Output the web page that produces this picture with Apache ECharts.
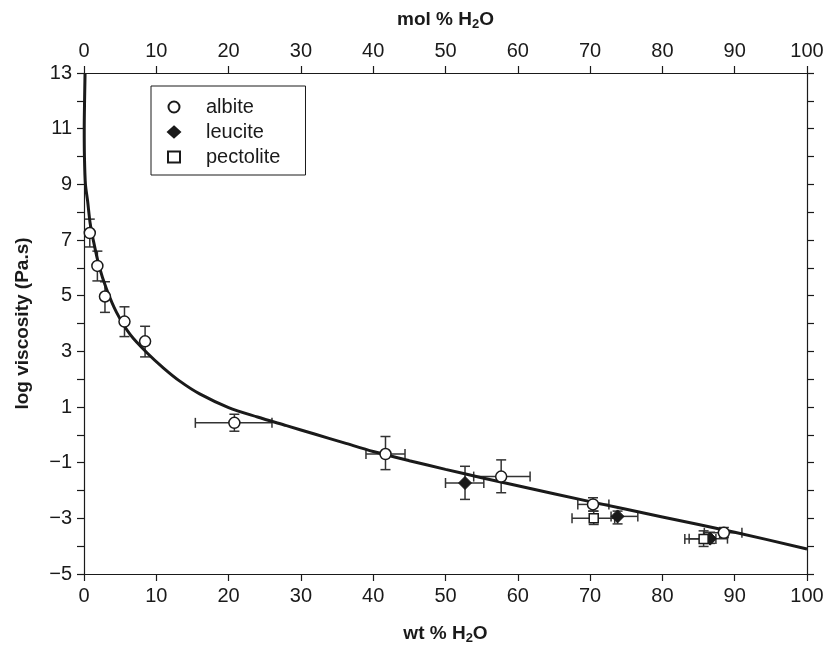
<!DOCTYPE html>
<html>
<head>
<meta charset="utf-8">
<script src="https://cdn.jsdelivr.net/npm/echarts@6/dist/echarts.min.js"></script>
<style>
html,body{margin:0;padding:0;background:#fff;}
#chart{width:827px;height:650px;}
</style>
</head>
<body>
<div id="chart"></div>
<script>
// Fitted curve (wt % H2O, log viscosity)
const curveX = [0.15, 0.08, 0.03, 0.06, 0.2, 0.5, 0.85, 1.2, 2.1, 3.1, 4.5, 6.4, 8.7, 11, 13.3, 16, 20, 24, 28, 32, 36, 40, 45, 50, 55, 60, 70, 80, 90, 100];
const curveY = [13, 12, 11, 10, 9, 8.4, 7.6, 7.1, 6.05, 5.25, 4.4, 3.6, 2.95, 2.4, 1.92, 1.47, 0.98, 0.64, 0.33, 0.02, -0.29, -0.6, -0.93, -1.24, -1.54, -1.83, -2.4, -2.95, -3.5, -4.1];

// albite
const albiteX   = [0.8, 1.85, 2.9, 5.6, 8.45, 20.8, 41.7, 57.7, 70.4, 88.5];
const albiteY   = [7.25, 6.07, 4.97, 4.07, 3.36, 0.43, -0.69, -1.5, -2.5, -3.52];
const albiteYLo = [6.75, 5.53, 4.4, 3.53, 2.8, 0.13, -1.25, -2.08, -2.74, -3.69];
const albiteYHi = [7.75, 6.6, 5.5, 4.6, 3.9, 0.74, -0.06, -0.9, -2.26, -3.33];
const albiteXLo = [null, null, null, null, null, 15.4, 39.0, 53.9, 68.3, 85.8];
const albiteXHi = [null, null, null, null, null, 26.0, 44.4, 61.7, 72.6, 91.0];

// leucite
const leuciteX   = [52.7, 73.8, 86.6];
const leuciteY   = [-1.73, -2.93, -3.73];
const leuciteYLo = [-2.32, -3.2, -3.9];
const leuciteYHi = [-1.13, -2.74, -3.5];
const leuciteXLo = [50.0, 72.9, 83.7];
const leuciteXHi = [55.3, 76.6, 89.0];

// pectolite
const pectoliteX   = [70.5, 85.7];
const pectoliteY   = [-3.0, -3.74];
const pectoliteYLo = [-3.22, -4.01];
const pectoliteYHi = [-2.74, -3.45];
const pectoliteXLo = [67.5, 83.1];
const pectoliteXHi = [73.4, 87.4];

const xMin = 0, xMax = 100, xStep = 10;
const yMin = -5, yMax = 13, yStep = 1;

const FONT = '"Liberation Sans", Arial, sans-serif';
const INK = '#1a1a1a';

function rows(x, y, ylo, yhi, xlo, xhi) {
  return x.map((v, i) => [v, y[i], ylo[i], yhi[i], xlo[i] == null ? NaN : xlo[i], xhi[i] == null ? NaN : xhi[i]]);
}
const albiteRows = rows(albiteX, albiteY, albiteYLo, albiteYHi, albiteXLo, albiteXHi);
const leuciteRows = rows(leuciteX, leuciteY, leuciteYLo, leuciteYHi, leuciteXLo, leuciteXHi);
const pectoliteRows = rows(pectoliteX, pectoliteY, pectoliteYLo, pectoliteYHi, pectoliteXLo, pectoliteXHi);
const allRows = albiteRows.concat(leuciteRows, pectoliteRows);

function errRender(params, api) {
  const x = api.value(0), y = api.value(1);
  const ylo = api.value(2), yhi = api.value(3);
  const xlo = api.value(4), xhi = api.value(5);
  const cap = 5;
  const style = { stroke: '#333', lineWidth: 1.5 };
  const ch = [];
  const pLo = api.coord([x, ylo]), pHi = api.coord([x, yhi]);
  ch.push({ type: 'line', shape: { x1: pLo[0], y1: pLo[1], x2: pHi[0], y2: pHi[1] }, style });
  ch.push({ type: 'line', shape: { x1: pLo[0] - cap, y1: pLo[1], x2: pLo[0] + cap, y2: pLo[1] }, style });
  ch.push({ type: 'line', shape: { x1: pHi[0] - cap, y1: pHi[1], x2: pHi[0] + cap, y2: pHi[1] }, style });
  if (!isNaN(xlo) && !isNaN(xhi)) {
    const qLo = api.coord([xlo, y]), qHi = api.coord([xhi, y]);
    ch.push({ type: 'line', shape: { x1: qLo[0], y1: qLo[1], x2: qHi[0], y2: qHi[1] }, style });
    ch.push({ type: 'line', shape: { x1: qLo[0], y1: qLo[1] - cap, x2: qLo[0], y2: qLo[1] + cap }, style });
    ch.push({ type: 'line', shape: { x1: qHi[0], y1: qHi[1] - cap, x2: qHi[0], y2: qHi[1] + cap }, style });
  }
  return { type: 'group', children: ch };
}

const fmtNum = v => (v < 0 ? '\u2212' + Math.abs(v) : String(v));

const axisLineStyle = { show: true, onZero: false, lineStyle: { color: INK, width: 1.2 } };
const tickStyle = { show: true, inside: false, length: 7, lineStyle: { color: INK, width: 1.2 } };
const labelStyle = { color: INK, fontSize: 20, fontFamily: FONT };
const nameRich = {
  a: { fontSize: 19, fontWeight: 'bold', fontFamily: FONT, color: INK },
  s: { fontSize: 13, fontWeight: 'bold', fontFamily: FONT, color: INK, verticalAlign: 'bottom', padding: [10, 0, 0, 0] }
};

const chart = echarts.init(document.getElementById('chart'), null, { renderer: 'canvas' });
chart.setOption({
  animation: false,
  backgroundColor: '#fff',
  grid: { left: 84, right: 20, top: 73, bottom: 73, containLabel: false },
  legend: {
    orient: 'vertical',
    left: 151, top: 86,
    padding: [11, 25, 8, 16],
    itemGap: 5,
    itemWidth: 12, itemHeight: 11,
    borderColor: INK, borderWidth: 1,
    textStyle: { color: INK, fontSize: 20, fontFamily: FONT, padding: [0, 0, 0, 21] },
    data: ['albite', 'leucite', 'pectolite']
  },
  xAxis: [
    {
      type: 'value', position: 'bottom', min: xMin, max: xMax, interval: xStep,
      name: '{a|wt % H}{s|2}{a|O}', nameLocation: 'middle', nameGap: 48,
      nameTextStyle: { rich: nameRich },
      axisLine: axisLineStyle, axisTick: tickStyle,
      axisLabel: Object.assign({ margin: 12 }, labelStyle),
      splitLine: { show: false }
    },
    {
      type: 'value', position: 'top', min: xMin, max: xMax, interval: xStep,
      name: '{a|mol % H}{s|2}{a|O}', nameLocation: 'middle', nameGap: 42,
      nameTextStyle: { rich: nameRich },
      axisLine: axisLineStyle, axisTick: tickStyle,
      axisLabel: Object.assign({ margin: 12 }, labelStyle),
      splitLine: { show: false }
    }
  ],
  yAxis: [
    {
      type: 'value', position: 'left', min: yMin, max: yMax, interval: yStep,
      name: 'log viscosity (Pa.s)', nameLocation: 'middle', nameGap: 52,
      nameTextStyle: { fontSize: 19, fontWeight: 'bold', fontFamily: FONT, color: INK },
      axisLine: axisLineStyle, axisTick: tickStyle,
      axisLabel: Object.assign({ margin: 12, formatter: v => (Math.abs(v) % 2 === 1 ? fmtNum(v) : '') }, labelStyle),
      splitLine: { show: false }
    },
    {
      type: 'value', position: 'right', min: yMin, max: yMax, interval: yStep,
      axisLine: axisLineStyle, axisTick: tickStyle,
      axisLabel: { show: false },
      splitLine: { show: false }
    }
  ],
  series: [
    {
      name: 'fit', type: 'line', xAxisIndex: 0, yAxisIndex: 0,
      data: curveX.map((v, i) => [v, curveY[i]]),
      showSymbol: false, smooth: 0.3,
      lineStyle: { color: INK, width: 3 },
      z: 3, silent: true
    },
    {
      name: 'errors', type: 'custom', xAxisIndex: 0, yAxisIndex: 0,
      renderItem: errRender,
      encode: { x: 0, y: 1 },
      data: allRows, z: 2, silent: true
    },
    {
      name: 'albite', type: 'scatter', xAxisIndex: 0, yAxisIndex: 0,
      data: albiteRows.map(r => [r[0], r[1]]),
      symbol: 'circle', symbolSize: 11,
      itemStyle: { color: '#fff', borderColor: INK, borderWidth: 1.5, opacity: 1 },
      z: 5
    },
    {
      name: 'leucite', type: 'scatter', xAxisIndex: 0, yAxisIndex: 0,
      data: leuciteRows.map(r => [r[0], r[1]]),
      symbol: 'diamond', symbolSize: 13,
      itemStyle: { color: INK, borderColor: INK, borderWidth: 1, opacity: 1 },
      z: 5
    },
    {
      name: 'pectolite', type: 'scatter', xAxisIndex: 0, yAxisIndex: 0,
      data: pectoliteRows.map(r => [r[0], r[1]]),
      symbol: 'rect', symbolSize: 9,
      itemStyle: { color: '#fff', borderColor: INK, borderWidth: 1.5, opacity: 1 },
      z: 5
    }
  ]
});
</script>
</body>
</html>
